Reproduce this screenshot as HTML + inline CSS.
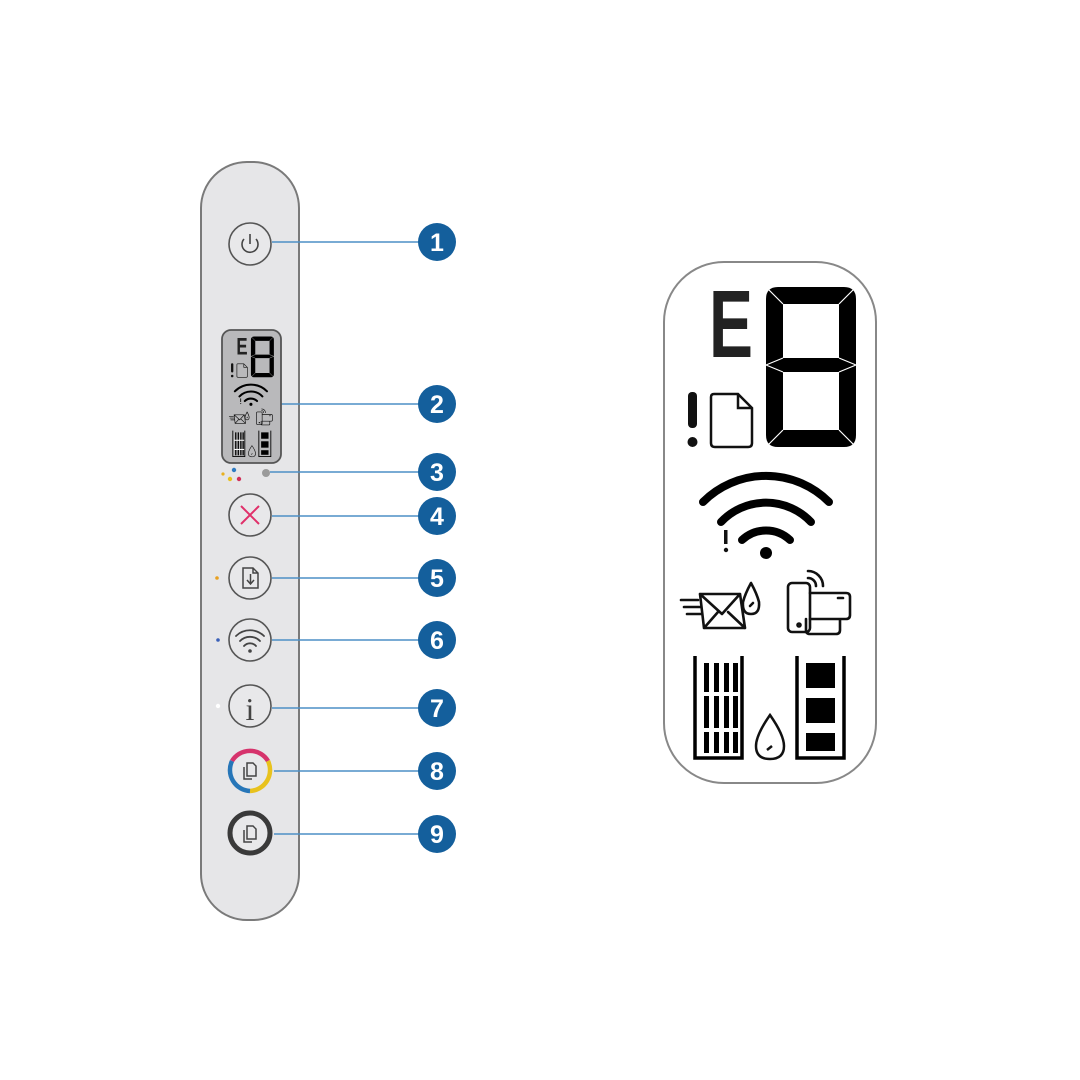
<!DOCTYPE html>
<html><head><meta charset="utf-8"><style>html,body{margin:0;padding:0;background:#fff}svg{display:block}</style></head>
<body>
<svg width="1080" height="1080" viewBox="0 0 1080 1080" xmlns="http://www.w3.org/2000/svg">
<defs>
<g id="disp">
  <text x="709" y="357" font-family="Liberation Sans, sans-serif" font-weight="bold" font-size="96" fill="#222" textLength="44" lengthAdjust="spacingAndGlyphs">E</text>
  <path fill-rule="evenodd" fill="#000" d="M778 287 H844 Q856 287 856 299 V435 Q856 447 844 447 H778 Q766 447 766 435 V299 Q766 287 778 287 Z M783 304 V358 H839 V304 Z M783 372 V430 H839 V372 Z"/>
  <path d="M766 287 L783 304 M856 287 L839 304 M766 447 L783 430 M856 447 L839 430 M766 365 L783 358 M766 365 L783 372 M856 365 L839 358 M856 365 L839 372" stroke="#fff" stroke-width="1.2"/>
  <rect x="688" y="392" width="9" height="36" rx="4" fill="#111"/>
  <circle cx="692.5" cy="442" r="5" fill="#111"/>
  <path d="M714 394 H738 L752 408 V443 Q752 447 748 447 H715 Q711 447 711 443 V397 Q711 394 714 394 Z M738 394 V408 H752" fill="none" stroke="#111" stroke-width="2.5"/>
  <path d="M703 502 A89 89 0 0 1 829 502" fill="none" stroke="#000" stroke-width="8" stroke-linecap="round"/>
  <path d="M721 522 A62 62 0 0 1 811 522" fill="none" stroke="#000" stroke-width="8" stroke-linecap="round"/>
  <path d="M742 540 A35 35 0 0 1 790 540" fill="none" stroke="#000" stroke-width="8" stroke-linecap="round"/>
  <circle cx="766" cy="553" r="6" fill="#000"/>
  <rect x="724" y="530" width="3.5" height="14" fill="#111"/><circle cx="726" cy="550" r="2.2" fill="#111"/>
  <g fill="none" stroke="#111" stroke-width="2.6" stroke-linejoin="round" stroke-linecap="round">
    <path d="M681 600 H698 M684 607 H700 M687 614 H702"/>
    <path d="M700 594 H740 L745 628 H704 Z M700 594 L722 614 L740 594 M704 628 L718 612 M745 628 L728 612"/>
    <path d="M751 583 Q745 594 743 602 Q742 614 751 614 Q760 614 759 602 Q757 594 751 583 Z M750 606 L753 603"/>
    <rect x="788" y="583" width="22" height="49" rx="4"/>
    <circle cx="799" cy="625" r="1.5"/>
    <path d="M810 593 H846 Q850 593 850 597 V615 Q850 619 846 619 H810 M806 619 V630 Q806 634 810 634 H836 Q840 634 840 630 V619 M838 598 H843"/>
    <path d="M808 578 A8 8 0 0 1 816 586 M808 571 A15 15 0 0 1 823 586"/>
  </g>
  <g fill="none" stroke="#000" stroke-width="3.5">
    <path d="M695 656 V758 H742 V656"/>
    <path d="M797 656 V758 H844 V656"/>
  </g>
  <g fill="#000">
    <rect x="704" y="663" width="5" height="90"/><rect x="714" y="663" width="5" height="90"/><rect x="724" y="663" width="5" height="90"/><rect x="733" y="663" width="5" height="90"/>
    <rect x="806" y="663" width="29" height="25"/><rect x="806" y="698" width="29" height="25"/><rect x="806" y="733" width="29" height="18"/>
  </g>
  <g fill="#fff"><rect x="700" y="692" width="40" height="4"/><rect x="700" y="728" width="40" height="4"/></g>
  <path d="M770 715 Q756 735 756 746 Q756 759 770 759 Q784 759 784 746 Q784 735 770 715 Z M767 750 L772 746" fill="none" stroke="#111" stroke-width="2.5"/>
</g>
</defs>

<rect x="201" y="162" width="98" height="758" rx="46" fill="#e6e6e8" stroke="#7a7a7a" stroke-width="2"/>

<g stroke="#4d8fc6" stroke-width="1.6">
  <line x1="272" y1="242" x2="425" y2="242"/>
  <line x1="281" y1="404" x2="425" y2="404"/>
  <line x1="270" y1="472" x2="425" y2="472"/>
  <line x1="272" y1="516" x2="425" y2="516"/>
  <line x1="272" y1="578" x2="425" y2="578"/>
  <line x1="272" y1="640" x2="425" y2="640"/>
  <line x1="272" y1="708" x2="425" y2="708"/>
  <line x1="274" y1="771" x2="425" y2="771"/>
  <line x1="274" y1="834" x2="425" y2="834"/>
</g>
<g fill="#145f9c">
  <circle cx="437" cy="242" r="19"/><circle cx="437" cy="404" r="19"/><circle cx="437" cy="472" r="19"/>
  <circle cx="437" cy="516" r="19"/><circle cx="437" cy="578" r="19"/><circle cx="437" cy="640" r="19"/>
  <circle cx="437" cy="708" r="19"/><circle cx="437" cy="771" r="19"/><circle cx="437" cy="834" r="19"/>
</g>
<g fill="#fff" font-family="Liberation Sans, sans-serif" font-weight="bold" font-size="25" text-anchor="middle">
  <text x="437" y="251">1</text><text x="437" y="413">2</text><text x="437" y="481">3</text>
  <text x="437" y="525">4</text><text x="437" y="587">5</text><text x="437" y="649">6</text>
  <text x="437" y="717">7</text><text x="437" y="780">8</text><text x="437" y="843">9</text>
</g>

<g fill="#e8e8ea" stroke="#555" stroke-width="1.6">
  <circle cx="250" cy="244" r="21"/>
  <circle cx="250" cy="515" r="21"/>
  <circle cx="250" cy="578" r="21"/>
  <circle cx="250" cy="640" r="21"/>
  <circle cx="250" cy="706" r="21"/>
</g>
<path d="M244 239 A8 8 0 1 0 256 239" fill="none" stroke="#444" stroke-width="1.6"/>
<line x1="250" y1="234" x2="250" y2="244" stroke="#444" stroke-width="1.6"/>
<path d="M241 506 L259 524 M259 506 L241 524" stroke="#e0306a" stroke-width="2"/>
<path d="M243 568 H253 L258 573 V588 H243 Z M253 568 V573 H258 M250.5 574 V584 M247 580 L250.5 584 L254 580" fill="none" stroke="#444" stroke-width="1.5"/>
<g fill="none" stroke="#444" stroke-width="1.8" stroke-linecap="round">
  <path d="M236 636 A20 20 0 0 1 264 636"/><path d="M240 641 A14 14 0 0 1 260 641"/><path d="M244 646 A8 8 0 0 1 256 646"/>
</g>
<circle cx="250" cy="651" r="1.8" fill="#444"/>
<text x="250" y="720" text-anchor="middle" font-family="Liberation Serif, serif" font-size="32" fill="#444">i</text>
<circle cx="250" cy="770" r="21" fill="#e8e8ea"/>
<path d="M232 761 A21 21 0 0 1 268 761" fill="none" stroke="#d6336c" stroke-width="4.5"/>
<path d="M268 761 A21 21 0 0 1 250 791" fill="none" stroke="#e8c21e" stroke-width="4.5"/>
<path d="M250 791 A21 21 0 0 1 232 761" fill="none" stroke="#2776b8" stroke-width="4.5"/>
<circle cx="250" cy="833" r="20" fill="#e8e8ea" stroke="#3a3a3a" stroke-width="5"/>
<g fill="none" stroke="#444" stroke-width="1.5">
  <path d="M247 763 H253 L256 766 V776 H247 Z M244 767 V779 H252"/>
  <path d="M247 826 H253 L256 829 V839 H247 Z M244 830 V842 H252"/>
</g>
<circle cx="223" cy="474" r="1.6" fill="#e8b020"/>
<circle cx="234" cy="470" r="2.2" fill="#2e7bc2"/>
<circle cx="230" cy="479" r="2.2" fill="#e8c020"/>
<circle cx="239" cy="479" r="2.2" fill="#d0305a"/>
<circle cx="266" cy="473" r="4" fill="#9a9a9a"/>
<circle cx="217" cy="578" r="1.8" fill="#e8a020"/>
<circle cx="218" cy="640" r="1.8" fill="#3a60b8"/>
<circle cx="218" cy="706" r="2.2" fill="#fff"/>

<rect x="222" y="330" width="59" height="133" rx="9" fill="#b9b9bb" stroke="#555" stroke-width="1.8"/>
<use href="#disp" transform="translate(55.6 263.3) scale(0.255)"/>

<rect x="664" y="262" width="212" height="521" rx="60" fill="#fff" stroke="#888" stroke-width="2"/>
<use href="#disp"/>
</svg>
</body></html>
